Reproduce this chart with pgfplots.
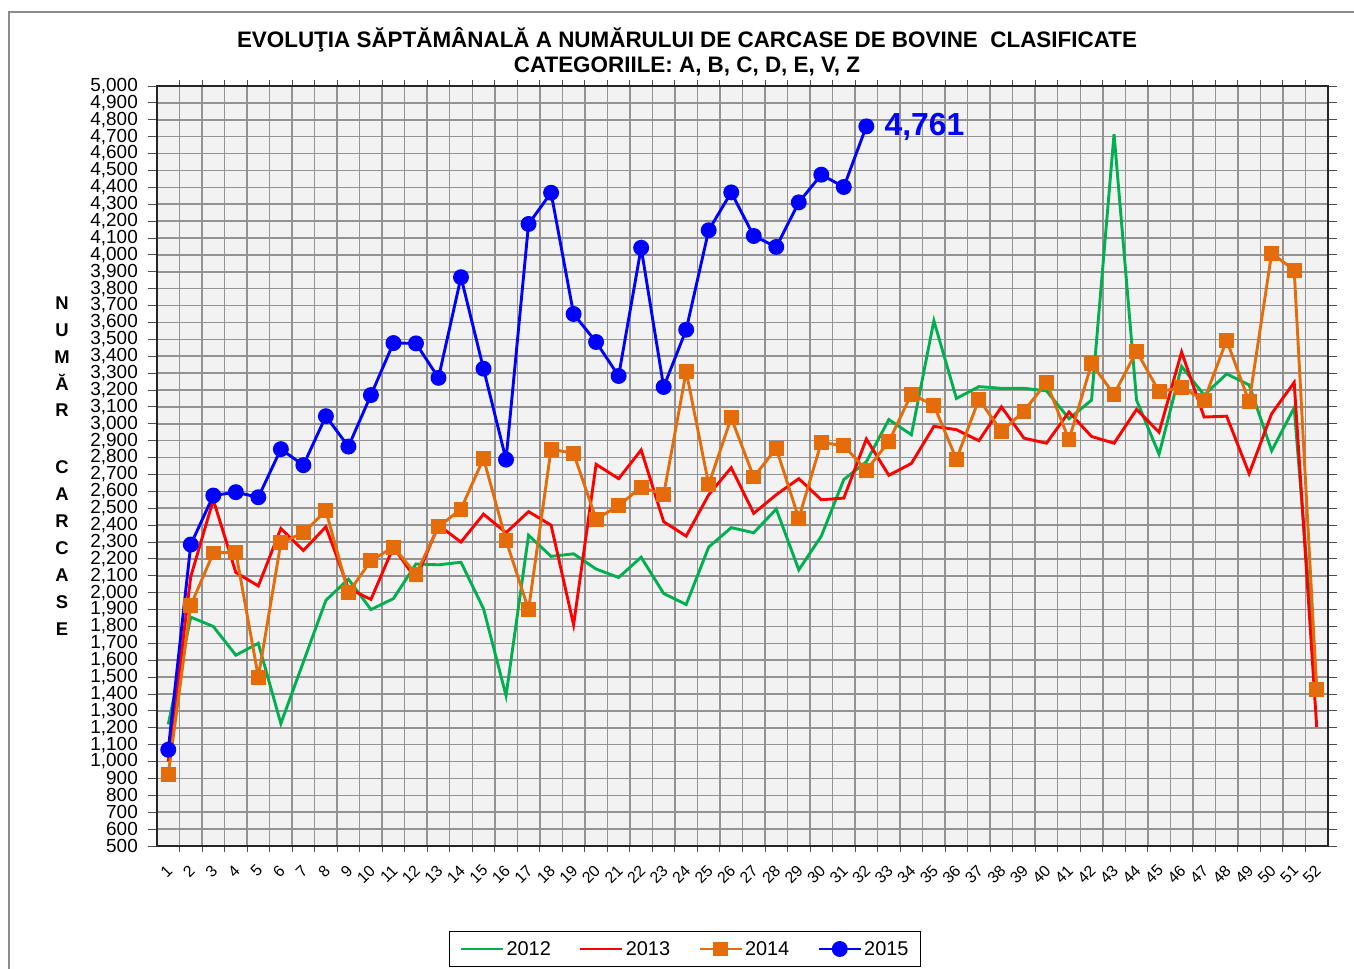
\documentclass[border=0pt]{standalone}
\usepackage{fontspec}
\setmainfont{Liberation Sans}
\usepackage{pgfplots}
\pgfplotsset{compat=1.18}
\definecolor{g12}{HTML}{00B050}
\definecolor{r13}{HTML}{FF0000}
\definecolor{o14}{HTML}{E46C0A}
\definecolor{b15}{HTML}{0000FF}
\definecolor{gridc}{HTML}{939393}
\definecolor{bgc}{HTML}{F2F2F2}
\begin{document}
\begin{tikzpicture}
\path[use as bounding box] (0,0) rectangle (1354bp,-969bp);
\draw[black!45, line width=1.2bp] (1354bp,-12bp) -- (9bp,-12bp) -- (9bp,-969bp);
\node[font=\bfseries\fontsize{22.5}{26}\selectfont] at (687bp,-40bp) {EVOLUŢIA SĂPTĂMÂNALĂ A NUMĂRULUI DE CARCASE DE BOVINE \ CLASIFICATE};
\node[font=\bfseries\fontsize{22.5}{26}\selectfont] at (687bp,-66bp) {CATEGORIILE: A, B, C, D, E, V, Z};
\node[font=\bfseries\fontsize{18.5}{27}\selectfont, align=center, inner sep=0pt] at (62bp,-466bp) {N\\U\\M\\Ă\\R\\[30bp]C\\A\\R\\C\\A\\S\\E};
\begin{axis}[
  at={(157bp,-86bp)}, anchor=north west,
  width=1171bp, height=760bp, scale only axis,
  xmin=0.5, xmax=52.5, ymin=500, ymax=5000,
  xtick={1,...,52}, minor x tick num=1,
  ytick={500,600,...,5000},
  tick align=outside,
  major tick length=9bp, minor tick length=6bp,
  major x tick style={draw=none},
  tick style={black!70, line width=1bp},
  axis background/.style={fill=bgc},
  ymajorgrids, xminorgrids,
  major grid style={gridc, line width=1.5bp},
  minor grid style={gridc, line width=1.5bp},
  axis line style={black!85, line width=1.3bp},
  /pgf/number format/.cd, 1000 sep={,}, assume math mode=true,
  /pgfplots/.cd,
  yticklabel style={font=\fontsize{19}{20}\selectfont, inner sep=1bp, xshift=-9bp},
  xticklabel style={font=\fontsize{16}{17}\selectfont, rotate=45, anchor=east, inner sep=1bp, xshift=-7bp, yshift=-10bp},
  legend columns=4,
  legend style={at={(0.451,-0.1355)}, anchor=center, draw=black, line width=1.2bp,
    font=\fontsize{20}{22}\selectfont, inner xsep=10bp, inner ysep=8bp,
    /tikz/every even column/.append style={column sep=26bp}},
  legend image code/.code={\draw[mark repeat=2,mark phase=2,#1] plot coordinates {(0bp,0bp) (21bp,0bp) (42bp,0bp)};},
]
\addplot[g12, line width=2.9bp, mark=none] coordinates {
(1,1220) (2,1855) (3,1800) (4,1630) (5,1700) (6,1225) (7,1590) (8,1955) (9,2080) (10,1900)
(11,1965) (12,2170) (13,2165) (14,2180) (15,1905) (16,1390) (17,2340) (18,2215) (19,2230) (20,2140)
(21,2090) (22,2210) (23,1995) (24,1930) (25,2270) (26,2385) (27,2355) (28,2495) (29,2135) (30,2335)
(31,2670) (32,2775) (33,3025) (34,2935) (35,3610) (36,3150) (37,3220) (38,3210) (39,3210) (40,3195)
(41,3030) (42,3140) (43,4715) (44,3140) (45,2820) (46,3340) (47,3170) (48,3295) (49,3230) (50,2840)
(51,3095) (52,1440)};
\addlegendentry{2012}
\addplot[r13, line width=2.9bp, mark=none] coordinates {
(1,1000) (2,2095) (3,2550) (4,2120) (5,2040) (6,2380) (7,2250) (8,2390) (9,2025) (10,1960)
(11,2270) (12,2080) (13,2400) (14,2300) (15,2465) (16,2355) (17,2480) (18,2400) (19,1810) (20,2760)
(21,2675) (22,2845) (23,2420) (24,2335) (25,2580) (26,2740) (27,2470) (28,2580) (29,2675) (30,2550)
(31,2560) (32,2910) (33,2695) (34,2765) (35,2985) (36,2965) (37,2900) (38,3100) (39,2915) (40,2885)
(41,3070) (42,2925) (43,2885) (44,3085) (45,2950) (46,3425) (47,3040) (48,3045) (49,2705) (50,3060)
(51,3245) (52,1205)};
\addlegendentry{2013}
\addplot[o14, line width=2.9bp, mark=square*, mark size=6bp, mark options={solid}] coordinates {
(1,925) (2,1925) (3,2235) (4,2240) (5,1500) (6,2295) (7,2355) (8,2485) (9,2000) (10,2190)
(11,2270) (12,2110) (13,2390) (14,2495) (15,2795) (16,2310) (17,1900) (18,2850) (19,2825) (20,2435)
(21,2515) (22,2625) (23,2580) (24,3310) (25,2640) (26,3035) (27,2685) (28,2855) (29,2440) (30,2890)
(31,2870) (32,2725) (33,2895) (34,3175) (35,3110) (36,2790) (37,3145) (38,2955) (39,3075) (40,3245)
(41,2905) (42,3355) (43,3175) (44,3430) (45,3190) (46,3215) (47,3140) (48,3495) (49,3130) (50,4010)
(51,3910) (52,1425)};
\addlegendentry{2014}
\addplot[b15, line width=2.9bp, mark=*, mark size=6.5bp] coordinates {
(1,1070) (2,2285) (3,2575) (4,2595) (5,2565) (6,2850) (7,2755) (8,3045) (9,2865) (10,3170)
(11,3478) (12,3476) (13,3272) (14,3868) (15,3326) (16,2788) (17,4183) (18,4368) (19,3650) (20,3484)
(21,3283) (22,4042) (23,3218) (24,3557) (25,4146) (26,4370) (27,4112) (28,4047) (29,4311) (30,4475)
(31,4402) (32,4761)};
\addlegendentry{2015}
\node[anchor=west, text=b15, font=\bfseries\fontsize{32}{36}\selectfont, inner sep=0pt] at (axis cs:32,4761) [xshift=18bp] {4,761};
\end{axis}
\end{tikzpicture}
\end{document}
